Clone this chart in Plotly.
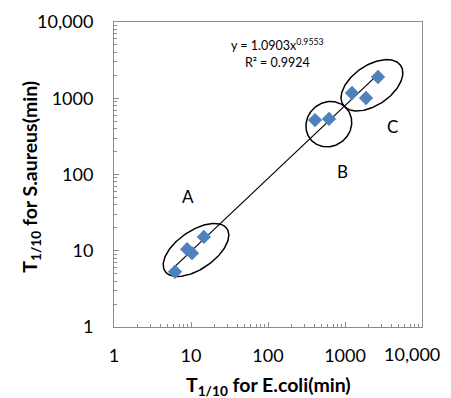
import numpy as np
import plotly.graph_objects as go

# data
ecoli = [6.2, 8.9, 10.3, 14.7, 408, 620, 1233, 1875, 2683]
saureus = [5.3, 10.5, 9.3, 15.2, 518, 535, 1172, 1007, 1900]
fit_a, fit_b = 1.0903, 0.9553
tick_vals = [1, 10, 100, 1000, 10000]
tick_text = ["1", "10", "100", "1000", "10,000"]
group_labels = ["A", "B", "C"]
group_label_x = [9.2, 940, 4200]
group_label_y = [52, 111, 420]
# ellipses in log10 space: center x, center y, semi-major, semi-minor, angle(deg)
ell_cx = [1.065, 2.79, 3.35]
ell_cy = [1.01, 2.66, 3.17]
ell_a = [0.49, 0.31, 0.455]
ell_b = [0.25, 0.285, 0.26]
ell_ang = [35, 45, 35]

FONT = "Lato"
fig = go.Figure()

# trendline
xs = np.logspace(np.log10(min(ecoli)), np.log10(max(ecoli)), 50)
fig.add_trace(go.Scatter(x=xs, y=fit_a * xs ** fit_b, mode="lines",
                         line=dict(color="black", width=1.2), hoverinfo="skip"))

# ellipses
t = np.linspace(0, 2 * np.pi, 200)
for cx, cy, a, b, ang in zip(ell_cx, ell_cy, ell_a, ell_b, ell_ang):
    th = np.radians(ang)
    lx = cx + a * np.cos(t) * np.cos(th) - b * np.sin(t) * np.sin(th)
    ly = cy + a * np.cos(t) * np.sin(th) + b * np.sin(t) * np.cos(th)
    fig.add_trace(go.Scatter(x=10 ** lx, y=10 ** ly, mode="lines",
                             line=dict(color="black", width=1.5), hoverinfo="skip"))

fig.add_trace(go.Scatter(x=ecoli, y=saureus, mode="markers",
                         marker=dict(symbol="diamond", size=11, color="#4F81BD")))

for lab, lx_, ly_ in zip(group_labels, group_label_x, group_label_y):
    fig.add_annotation(x=np.log10(lx_), y=np.log10(ly_), text=lab, showarrow=False,
                       font=dict(family=FONT, size=17, color="black"))

fig.add_annotation(xref="paper", yref="paper", x=0.53, y=0.962, yanchor="top",
                   text="y = 1.0903x<sup>0.9553</sup><br>R² = 0.9924", showarrow=False,
                   font=dict(family=FONT, size=12.5, color="black"), align="center")

# axis titles
fig.add_annotation(xref="paper", yref="paper", x=0.5, y=-0.193, yanchor="middle",
                   text="<b>T<sub>1/10</sub> for E.coli(min)</b>", showarrow=False,
                   font=dict(family=FONT, size=19.5, color="black"))
fig.add_annotation(xref="paper", yref="paper", x=-0.2695, y=0.493, xanchor="center",
                   yanchor="middle", textangle=-90,
                   text="<b>T<sub>1/10</sub> for S.aureus(min)</b>", showarrow=False,
                   font=dict(family=FONT, size=19.5, color="black"))

# last x tick label is pulled inside the figure, as in the original
fig.add_annotation(xref="paper", yref="paper", x=1.066, y=-0.088, xanchor="right",
                   yanchor="middle", text=tick_text[-1], showarrow=False,
                   font=dict(family=FONT, size=18, color="black"))

minor_vals = [m * 10 ** d for d in range(4) for m in range(2, 10)]
axis_common = dict(type="log", tickmode="array", tickvals=tick_vals,
                   showgrid=False, zeroline=False, showline=True, linecolor="#8c8c8c",
                   linewidth=1, mirror=True, ticks="inside", ticklen=5, tickcolor="#8c8c8c",
                   range=[0, 4], automargin=False,
                   tickfont=dict(family=FONT, size=18, color="black"),
                   minor=dict(tickmode="array", tickvals=minor_vals, ticks="inside",
                              ticklen=3, tickcolor="#8c8c8c", showgrid=False))

x_tick_text = tick_text[:-1] + [""]
fig.update_xaxes(**axis_common, ticktext=x_tick_text, ticklabelstandoff=12)
fig.update_yaxes(**axis_common, ticktext=tick_text, ticklabelstandoff=16)

# page body adds an 8px margin, so the figure is 8px smaller and shifted margins
fig.update_layout(width=443, height=390, showlegend=False,
                  margin=dict(l=106, r=29, t=14, b=71),
                  plot_bgcolor="white", paper_bgcolor="white")
fig.write_html("out.html")
